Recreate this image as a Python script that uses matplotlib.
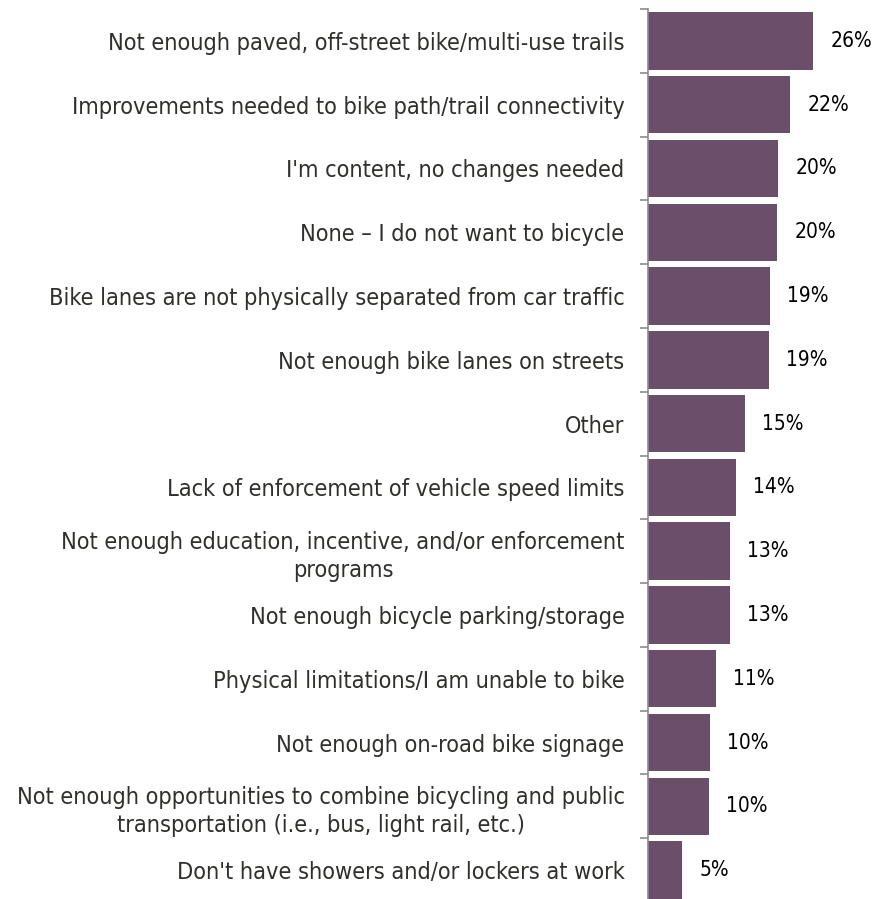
import matplotlib
matplotlib.use("Agg")
import matplotlib.pyplot as plt
import numpy as np

# ============================================================
# DATA
# ============================================================

categories = [
    "Not enough paved, off-street bike/multi-use trails",
    "Improvements needed to bike path/trail connectivity",
    "I'm content, no changes needed",
    "None \u2013 I do not want to bicycle",
    "Bike lanes are not physically separated from car traffic",
    "Not enough bike lanes on streets",
    "Other",
    "Lack of enforcement of vehicle speed limits",
    "Not enough education, incentive, and/or enforcement\nprograms",
    "Not enough bicycle parking/storage",
    "Physical limitations/I am unable to bike",
    "Not enough on-road bike signage",
    "Not enough opportunities to combine bicycling and public\ntransportation (i.e., bus, light rail, etc.)",
    "Don't have showers and/or lockers at work",
]

percent = [25.9, 22.3, 20.4, 20.2, 19.1, 19.0, 15.2, 13.8, 12.9, 12.9, 10.7, 9.7, 9.6, 5.4]

# ============================================================
# STYLE
# ============================================================

BAR_COLOR = "#6B4F6A"
AXIS_COLOR = "#8C8C8C"
LABEL_COLOR = "#2F2F2B"
FONT = "DejaVu Sans"

W, H = 874, 899
X_MAX = 35
PX_PER_UNIT = 6.4

fig = plt.figure(figsize=(W / 100, H / 100), dpi=100)

left = 647.5 / W
width = X_MAX * PX_PER_UNIT / W
top = 1 - 9 / H
bottom = 1 - 902 / H
ax = fig.add_axes([left, bottom, width, top - bottom])

y = np.arange(len(categories))

ax.barh(y, percent, height=0.9, color=BAR_COLOR)

# value labels to the right of each bar
for yi, v in zip(y, percent):
    ax.annotate(
        f"{v:.0f}%",
        xy=(v, yi),
        xytext=(12.5, 0),
        textcoords="offset points",
        ha="left",
        va="center",
        fontsize=15,
        family=FONT,
        fontstretch="condensed",
        color="black",
    )

ax.set_xlim(0, X_MAX)
ax.set_ylim(len(categories) - 0.5, -0.5)

for s in ["top", "right", "bottom"]:
    ax.spines[s].set_visible(False)
ax.spines["left"].set_color(AXIS_COLOR)
ax.spines["left"].set_linewidth(1.2)

ax.set_xticks([])
ax.set_yticks(y)
ax.set_yticklabels(categories)
ax.set_yticks(np.arange(len(categories) + 1) - 0.5, minor=True)

ax.tick_params(axis="y", which="major", length=0, pad=16.5)
ax.tick_params(axis="y", which="minor", length=5.5, width=1.2, color=AXIS_COLOR)

for t in ax.get_yticklabels():
    t.set_multialignment("center")
    t.set_fontsize(16.8)
    t.set_family(FONT)
    t.set_stretch("condensed")
    t.set_color(LABEL_COLOR)
    t.set_linespacing(1.3)

fig.savefig("out.png", dpi=100)
